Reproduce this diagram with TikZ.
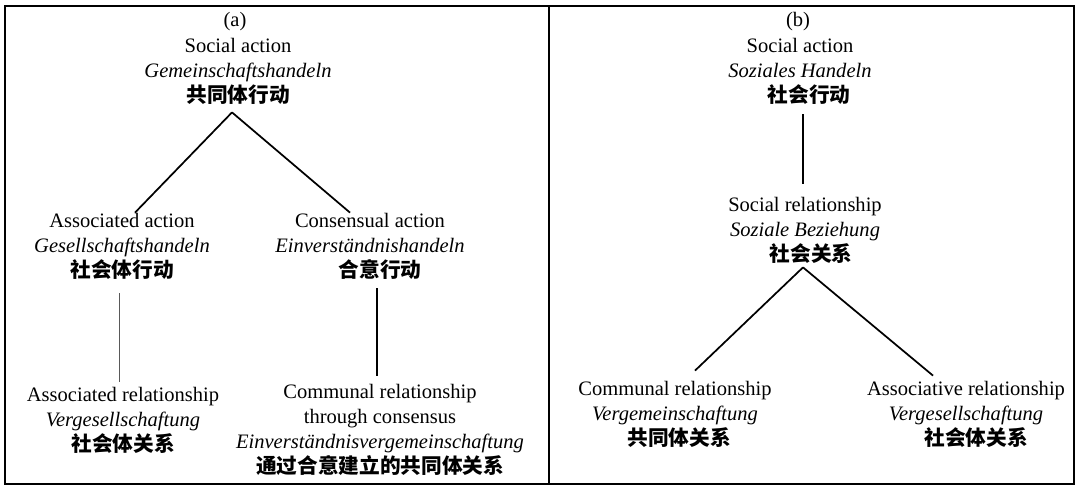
\documentclass[tikz,border=0pt]{standalone}
\usepackage{fontspec}
\setmainfont{Liberation Serif}
\newfontfamily\cjk{Noto Sans CJK SC}
\newcommand\zh[1]{{\cjk\bfseries\fontsize{15.5}{18.75}\selectfont #1}}
\begin{document}
\begin{tikzpicture}[x=0.75pt,y=-0.75pt,
  lbl/.style={align=center,inner sep=0pt,font=\fontsize{15.4}{18.75}\selectfont},
  edge/.style={line width=1.3pt},
  thinedge/.style={line width=0.7pt,draw=black!65},
  frame/.style={line width=1.8pt}]
\useasboundingbox (0,0) rectangle (1080,491);
\draw[frame] (5,6) rectangle (1074,484);
\draw[line width=1.4pt] (549,6) -- (549,484);
% panel (a)
\node[lbl] (pa) at (235,22) {(a)};
\node[lbl] (ta) at (238,71) {Social action\\\textit{Gemeinschaftshandeln}\\\zh{共同体行动}};
\node[lbl] (la) at (122,246) {Associated action\\\textit{Gesellschaftshandeln}\\\zh{社会体行动}};
\node[lbl] (ra) at (370,246) {Consensual action\\\textit{Einverständnishandeln}\\\hspace*{15pt}\zh{合意行动}};
\node[lbl] (lb) at (123,420) {Associated relationship\\\textit{Vergesellschaftung}\\\zh{社会体关系}};
\node[lbl] (rb) at (380,430) {Communal relationship\\through consensus\\\textit{Einverständnisvergemeinschaftung}\\\zh{通过合意建立的共同体关系}};
\coordinate (apA) at ([xshift=-4.5pt,yshift=-6pt]ta.south);
\draw[edge] (apA) -- ([xshift=9.75pt]la.north);
\draw[edge] (apA) -- ([xshift=-15pt]ra.north);
\coordinate (l1) at ([xshift=-2.25pt,yshift=-10.5pt]la.south);
\draw[thinedge,shorten >=3.75pt] (l1) -- (l1 |- lb.north);
\coordinate (r1) at ([xshift=5.25pt,yshift=-6.75pt]ra.south);
\draw[edge,shorten >=6pt] (r1) -- (r1 |- rb.north);
% panel (b)
\node[lbl] (pb) at (798,22) {(b)};
\node[lbl] (tb) at (800,71) {Social action\\\textit{Soziales Handeln}\\\hspace*{13.5pt}\zh{社会行动}};
\node[lbl] (mb) at (805,230) {Social relationship\\\textit{Soziale Beziehung}\\\hspace*{9pt}\zh{社会关系}};
\node[lbl] (bl) at (675,414) {Communal relationship\\\textit{Vergemeinschaftung}\\\hspace*{6pt}\zh{共同体关系}};
\node[lbl] (br) at (966,414) {Associative relationship\\\textit{Vergesellschaftung}\\\hspace*{15pt}\zh{社会体关系}};
\coordinate (t1) at ([xshift=2.25pt,yshift=-7.5pt]tb.south);
\draw[edge,shorten >=9.75pt] (t1) -- (t1 |- mb.north);
\coordinate (apB) at ([xshift=-1.5pt,yshift=-3pt]mb.south);
\draw[edge] (apB) -- ([xshift=15pt,yshift=7.5pt]bl.north);
\draw[edge] (apB) -- ([xshift=-24.75pt,yshift=3.75pt]br.north);
\end{tikzpicture}
\end{document}
